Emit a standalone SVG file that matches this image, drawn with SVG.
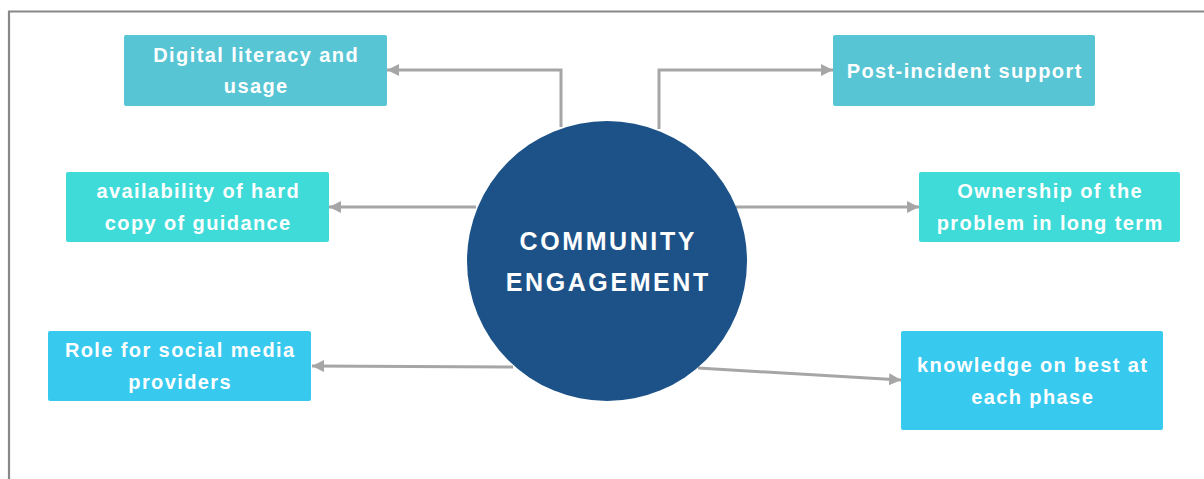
<svg xmlns="http://www.w3.org/2000/svg" width="1204" height="479" viewBox="0 0 1204 479">
<defs>
<style>
.frame{fill:none;stroke:#888888;stroke-width:2.2}
.conn{fill:none;stroke:#A6A6A6;stroke-width:3}
.b1{fill:#57C5D4}
.b2{fill:#3FDBD9}
.b3{fill:#38C9EF}
.t{font-family:"Liberation Sans",Arial,sans-serif;font-weight:bold;font-size:20px;letter-spacing:1.4px;fill:#ffffff;text-anchor:middle}
.ct{font-family:"Liberation Sans",Arial,sans-serif;font-weight:bold;font-size:25px;letter-spacing:2.6px;fill:#ffffff;text-anchor:middle}
</style>
<marker id="arr" markerUnits="userSpaceOnUse" markerWidth="12" markerHeight="12" viewBox="0 0 10 10" refX="10" refY="5" orient="auto">
<path d="M0,0 L10,5 L0,10 z" fill="#A6A6A6"/>
</marker>
</defs>
<rect width="1204" height="479" fill="#ffffff"/>
<path class="frame" d="M9,479 V11.5 H1204"/>
<g id="connectors">
<path class="conn" d="M561,127 V70 H387" marker-end="url(#arr)"/>
<path class="conn" d="M476,207 H329" marker-end="url(#arr)"/>
<path class="conn" d="M659,129 V70 H833" marker-end="url(#arr)"/>
<path class="conn" d="M736,207 H919" marker-end="url(#arr)"/>
<path class="conn" d="M513,367 L312,366" marker-end="url(#arr)"/>
<path class="conn" d="M698,368 L901,380" marker-end="url(#arr)"/>
</g>
<g id="center">
<circle cx="607" cy="261" r="140" fill="#1C5287"/>
<text class="ct" x="608.3" y="250">COMMUNITY</text>
<text class="ct" x="608.3" y="291">ENGAGEMENT</text>
</g>
<g id="digital">
<rect class="b1" x="124" y="35" width="263" height="71" rx="2"/>
<text class="t" x="256.2" y="62">Digital literacy and</text>
<text class="t" x="256.2" y="93">usage</text>
</g>
<g id="availability">
<rect class="b2" x="66" y="172" width="263" height="70" rx="2"/>
<text class="t" x="198.2" y="198">availability of hard</text>
<text class="t" x="198.2" y="230">copy of guidance</text>
</g>
<g id="role">
<rect class="b3" x="48" y="331" width="263" height="70" rx="2"/>
<text class="t" x="180.2" y="357">Role for social media</text>
<text class="t" x="180.2" y="389">providers</text>
</g>
<g id="post">
<rect class="b1" x="833" y="35" width="262" height="71" rx="2"/>
<text class="t" x="964.7" y="78">Post-incident support</text>
</g>
<g id="ownership">
<rect class="b2" x="919" y="172" width="261" height="70" rx="2"/>
<text class="t" x="1050.2" y="198">Ownership of the</text>
<text class="t" x="1050.2" y="230">problem in long term</text>
</g>
<g id="knowledge">
<rect class="b3" x="901" y="331" width="262" height="99" rx="2"/>
<text class="t" x="1032.7" y="372">knowledge on best at</text>
<text class="t" x="1032.7" y="404">each phase</text>
</g>
</svg>
